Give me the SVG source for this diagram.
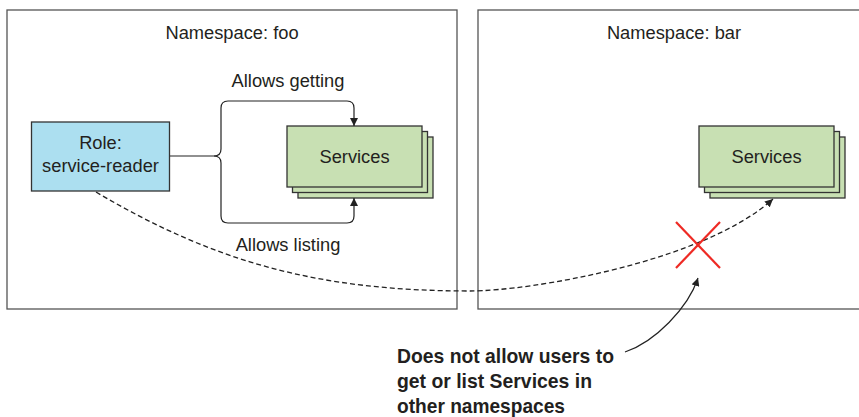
<svg xmlns="http://www.w3.org/2000/svg" width="859" height="417" viewBox="0 0 859 417">
<defs>
<style>
.ns{fill:#fff;stroke:#555;stroke-width:1.3}
.lbl{font-family:"Liberation Sans",Arial,sans-serif;font-size:18.3px;fill:#231f20;text-anchor:middle}
.svc{fill:#c8e0b3;stroke:#333;stroke-width:1.3}
.role{fill:#acdff0;stroke:#333;stroke-width:1.3}
.conn{fill:none;stroke:#222;stroke-width:1.2}
.dash{fill:none;stroke:#222;stroke-width:1.3;stroke-dasharray:5 3}
.note{font-family:"Liberation Sans",Arial,sans-serif;font-size:20.5px;font-weight:bold;fill:#231f20}
.x{stroke:#ee2a24;stroke-width:2.2}
</style>
<marker id="ah" viewBox="0 0 10 10" refX="10" refY="5" markerWidth="8" markerHeight="8" markerUnits="userSpaceOnUse" orient="auto">
<path d="M0,0 L10,5 L0,10 z" fill="#222"/>
</marker>
</defs>
<g id="ns-foo">
<rect class="ns" x="7" y="10" width="450" height="299"/>
<text class="lbl" x="232" y="39">Namespace: foo</text>
</g>
<g id="ns-bar">
<rect class="ns" x="478" y="10" width="400" height="299"/>
<text class="lbl" x="674" y="39">Namespace: bar</text>
</g>
<g id="role">
<rect class="role" x="31.5" y="122" width="138" height="69"/>
<text class="lbl" x="100.5" y="149">Role:</text>
<text class="lbl" x="100.5" y="172">service-reader</text>
</g>
<g id="services-foo">
<rect class="svc" x="298" y="137" width="135" height="61"/>
<rect class="svc" x="292.5" y="131.5" width="135" height="61"/>
<rect class="svc" x="287" y="126" width="135" height="61"/>
<text class="lbl" x="354.5" y="163">Services</text>
</g>
<g id="services-bar">
<rect class="svc" x="710" y="137" width="135" height="61"/>
<rect class="svc" x="704.5" y="131.5" width="135" height="61"/>
<rect class="svc" x="699" y="126" width="135" height="61"/>
<text class="lbl" x="766.5" y="163">Services</text>
</g>
<g id="connectors">
<path class="conn" d="M170,156 L214,156 Q221,156 221,149 V108 Q221,101 228,101 H347 Q354,101 354,108 V126" marker-end="url(#ah)"/>
<path class="conn" d="M214,156 Q221,156 221,163 V216 Q221,223 228,223 H347 Q354,223 354,216 V198" marker-end="url(#ah)"/>
<path class="dash" d="M96,192 C216,263 320,291 470,291 C530,291 703,262 773,199" marker-end="url(#ah)"/>
<path class="conn" d="M625,352 C655,342 688,308 698,278" marker-end="url(#ah)"/>
</g>
<g id="labels">
<text class="lbl" x="288" y="87">Allows getting</text>
<text class="lbl" x="288" y="251">Allows listing</text>
</g>
<g id="deny">
<line class="x" x1="676" y1="222" x2="720" y2="268"/>
<line class="x" x1="720" y1="222" x2="676" y2="268"/>
</g>
<g id="note">
<text class="note" x="397" y="363" textLength="217" lengthAdjust="spacingAndGlyphs">Does not allow users to</text>
<text class="note" x="397" y="388" textLength="195" lengthAdjust="spacingAndGlyphs">get or list Services in</text>
<text class="note" x="397" y="413" textLength="168" lengthAdjust="spacingAndGlyphs">other namespaces</text>
</g>
</svg>
